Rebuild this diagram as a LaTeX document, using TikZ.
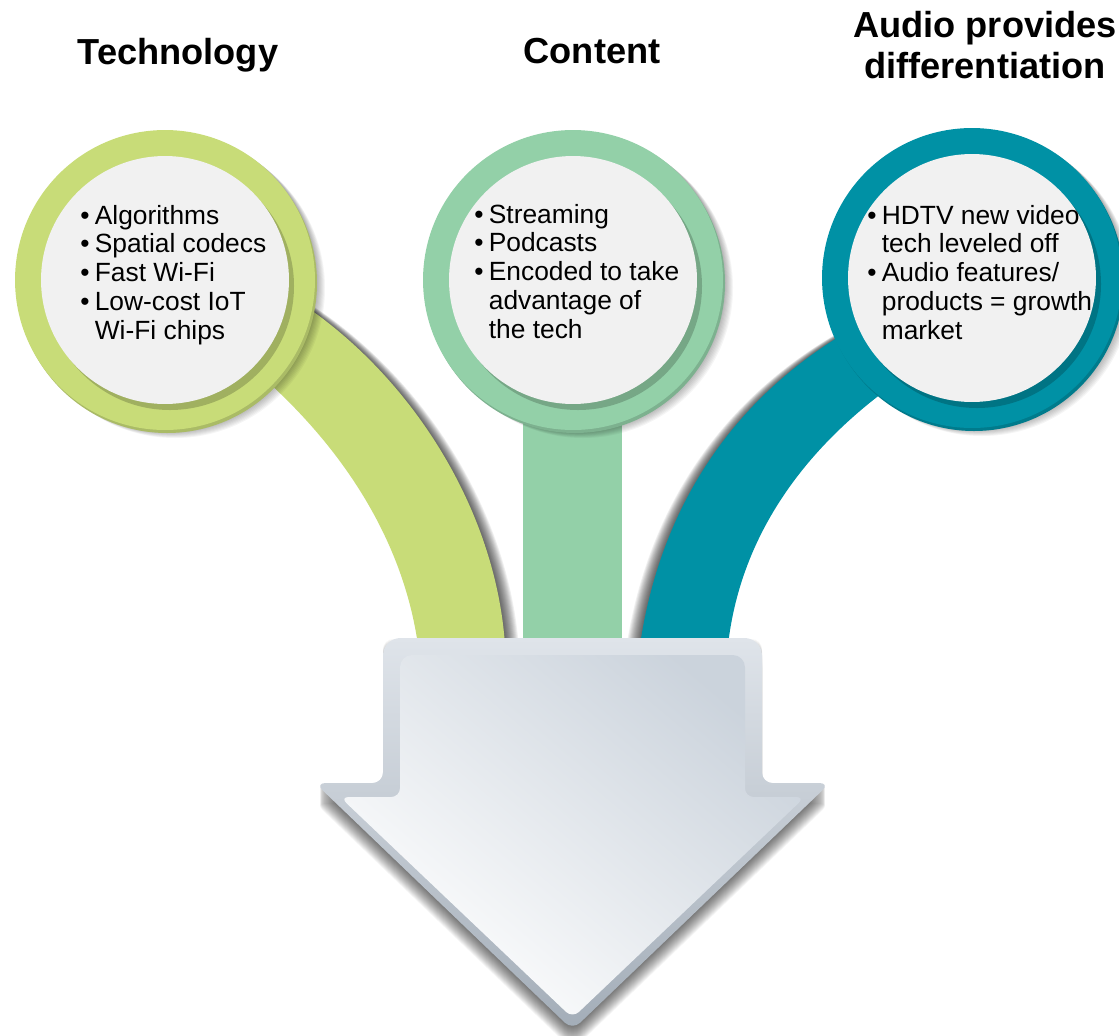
\documentclass[tikz,border=0pt]{standalone}
\usepackage{fontspec}
\setmainfont{Liberation Sans}
\definecolor{techgreen}{HTML}{C8DC78}
\definecolor{contmint}{HTML}{93D0A8}
\definecolor{diffteal}{HTML}{0091A5}
\definecolor{discfill}{HTML}{F1F1F1}
\definecolor{arrowrim}{HTML}{DFE4EA}
\definecolor{arrowdark}{HTML}{A3ADB8}
\definecolor{arrowtop}{HTML}{CBD3DC}
\tikzset{
  title/.style={font=\fontsize{20.6}{23.2}\selectfont\bfseries, align=center, inner sep=0},
  ring/.style={circle, fill=#1, minimum size=6cm, inner sep=0},
  disc/.style={circle, fill=discfill, minimum size=4.96cm, inner sep=0},
  bullets/.style={font=\fontsize{15}{16.4}\selectfont, inner sep=0, anchor=base west},
}
\newcommand{\blist}[1]{\begin{tabular}[t]{@{}l@{\hspace{3pt}}l@{}}#1\end{tabular}}
\begin{document}
\begin{tikzpicture}[x=0.02cm, y=-0.02cm]
    \useasboundingbox (0,0) rectangle (1119,1035);
    % soft shadows beside the stems
    \foreach \s in {1,...,14} {
        \fill[black, opacity=.06, shift={(\s,\s*.3)}] (230,350) .. controls (320,420) and (400,520) .. (418,645) -- (505,645) .. controls (495,500) and (400,360) .. (280,290) -- cycle;
        \fill[black, opacity=.06, shift={(-\s,\s*.3)}] (640,645) .. controls (660,510) and (730,400) .. (850,330) -- (900,380) .. controls (800,450) and (740,540) .. (728,645) -- cycle;
    }
    % stems
    \fill[techgreen] (230,350) .. controls (320,420) and (400,520) .. (418,645) -- (505,645) .. controls (495,500) and (400,360) .. (280,290) -- cycle;
    \fill[contmint] (523,380) rectangle (622,645);
    \fill[diffteal] (640,645) .. controls (660,510) and (730,400) .. (850,330) -- (900,380) .. controls (800,450) and (740,540) .. (728,645) -- cycle;
    % rings and discs
    \foreach \cx/\cy/\col/\nm in {165/280/techgreen/tech, 573/280/contmint/cont, 972/278/diffteal/diff} {
        \foreach \s in {1,...,10}
            \fill[black, opacity=.04] (\cx+\s,\cy+\s*.8) circle[radius=150];
        \fill[\col!85!black] (\cx+2,\cy+3) circle[radius=150];
        \node[ring=\col] (\nm) at (\cx,\cy) {};
        \fill[\col!80!black] (\cx+5,\cy+6) circle[radius=124];
        \node[disc] (\nm-disc) at (\cx,\cy) {};
    }
    % titles
    \node[title, anchor=base] (tech-title) at (178,64) {Technology};
    \node[title, anchor=base] (cont-title) at (592,63) {Content};
    \node[title, anchor=north] (diff-title) at (985,11) {Audio provides\\differentiation};
    % bullet texts
    \node[bullets] (tech-txt) at (80,224) {\blist{\textbullet & Algorithms\\ \textbullet & Spatial codecs\\ \textbullet & Fast Wi-Fi\\ \textbullet & Low-cost IoT\\ & Wi-Fi chips}};
    \node[bullets] (cont-txt) at (474,223) {\blist{\textbullet & Streaming\\ \textbullet & Podcasts\\ \textbullet & Encoded to take\\ & advantage of\\ & the tech}};
    \node[bullets] (diff-txt) at (867,224) {\blist{\textbullet & HDTV new video\\ & tech leveled off\\ \textbullet & Audio features/\\ & products = growth\\ & market}};
    % big arrow
    \foreach \s in {1,...,20}
        \fill[black, opacity=.035, shift={(0,\s)}] (383,700) [rounded corners=6pt] -- (383,638) -- (762,638) -- (762,783) -- (830,783) -- (572.5,1030) -- (315,783) -- (383,783) -- cycle;
    \shade[top color=arrowrim, middle color=arrowrim, bottom color=arrowdark] (383,700) [rounded corners=10pt] -- (383,638) -- (762,638) [rounded corners=6pt] -- (762,783) -- (830,783) -- (572.5,1030) -- (315,783) -- (383,783) -- cycle;
    \shade[top color=arrowtop, bottom color=white, shading angle=-40] (400,720) [rounded corners=7pt] -- (400,655) -- (745,655) [rounded corners=5pt] -- (745,797) -- (805,797) -- (572.5,1018) -- (340,797) -- (400,797) -- cycle;
\end{tikzpicture}
\end{document}
